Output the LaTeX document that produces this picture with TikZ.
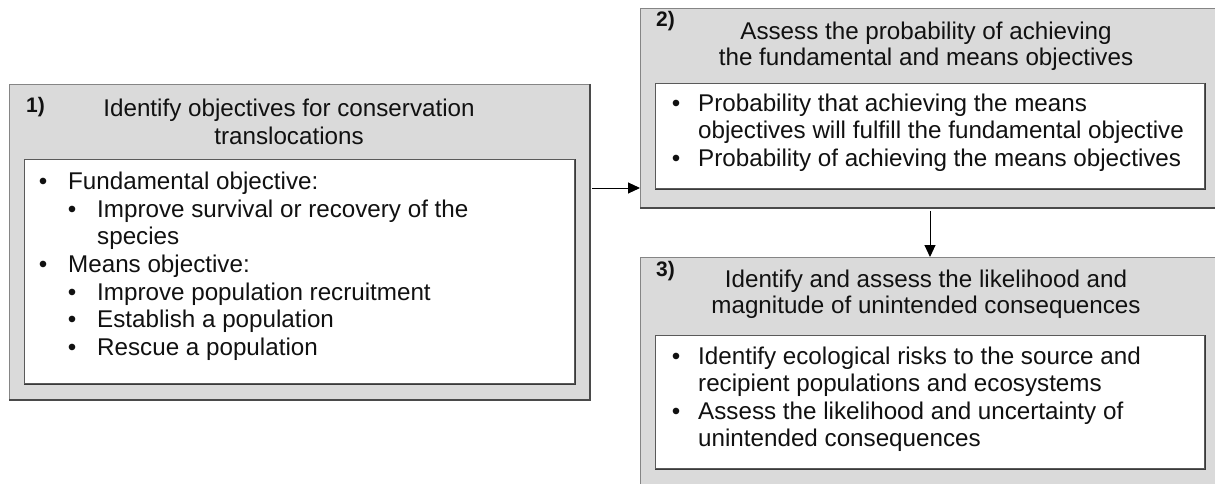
\documentclass[tikz,border=0pt]{standalone}
\usepackage{fontspec}
\setmainfont{Liberation Sans}
\usetikzlibrary{arrows.meta}
\definecolor{panelfill}{HTML}{DADADA}
\definecolor{paneledge}{HTML}{858585}
\definecolor{paneldark}{HTML}{4A4A4A}
\definecolor{cardedge}{HTML}{5A5A5A}
\definecolor{carddark}{HTML}{3A3A3A}
\definecolor{ink}{HTML}{111111}

\begin{document}
\begin{tikzpicture}[x=1pt,y=-1pt,
  panel/.style={draw=paneledge, line width=1pt, fill=panelfill, anchor=north west, inner sep=0pt},
  card/.style={draw=cardedge, line width=1.2pt, fill=white, anchor=north west, inner sep=0pt},
  panelshade/.style={draw=paneldark, line width=2pt},
  cardshade/.style={draw=carddark, line width=1.4pt},
  body/.style={anchor=base west, inner sep=0pt, text=ink, font=\fontsize{24.2}{29}\selectfont},
  head/.style={anchor=base, inner sep=0pt, text=ink, font=\fontsize{24.2}{29}\selectfont},
  num/.style={anchor=base west, inner sep=0pt, text=ink, font=\fontsize{21}{25}\selectfont\bfseries},
  dot/.style={anchor=base, inner sep=0pt, text=ink, font=\fontsize{24.2}{29}\selectfont},
  link/.style={draw=black, line width=1pt, -{Triangle[length=12pt,width=11pt]}}
]
\useasboundingbox (0,0) rectangle (1215,484);
\clip (0,0) rectangle (1215,484);

% ---- grey panels with their white cards
\node[panel, minimum width=580pt, minimum height=315pt] (box1) at (9,84) {};
\node[card, minimum width=550pt, minimum height=224pt] (card1) at (24,159) {};
\node[panel, minimum width=579pt, minimum height=199pt] (box2) at (640,8) {};
\node[card, minimum width=549pt, minimum height=105pt] (card2) at (655,83) {};
\node[panel, minimum width=579pt, minimum height=230pt] (box3) at (640,257) {};
\node[card, minimum width=549pt, minimum height=133pt] (card3) at (655,335) {};

% darker lower and right edges
\foreach \b in {box1,box2,box3}
  \draw[panelshade] (\b.north east) -- (\b.south east) -- (\b.south west);
\foreach \c in {card1,card2,card3}
  \draw[cardshade] (\c.north east) -- (\c.south east) -- (\c.south west);

% ---- panel 1
\node[num]  (n1)  at (26,113)  {1)};
\node[head] (h1a) at (289,117) {Identify objectives for conservation};
\node[head] (h1b) at (289,144) {translocations};

\node[dot]  (d1a) at (43,189)  {•};
\node[body] (b1a) at (68,189)  {Fundamental objective:};
\node[dot]  (d1b) at (72,217)  {•};
\node[body] (b1b) at (97,217)  {Improve survival or recovery of the};
\node[body] (b1c) at (97,244)  {species};
\node[dot]  (d1d) at (43,272)  {•};
\node[body] (b1d) at (68,272)  {Means objective:};
\node[dot]  (d1e) at (72,300)  {•};
\node[body] (b1e) at (97,300)  {Improve population recruitment};
\node[dot]  (d1f) at (72,327)  {•};
\node[body] (b1f) at (97,327)  {Establish a population};
\node[dot]  (d1g) at (72,355)  {•};
\node[body] (b1g) at (97,355)  {Rescue a population};

% ---- panel 2
\node[num]  (n2)  at (656,27)  {2)};
\node[head] (h2a) at (926,40)  {Assess the probability of achieving};
\node[head] (h2b) at (926,66)  {the fundamental and means objectives};

\node[dot]  (d2a) at (676,112) {•};
\node[body] (b2a) at (698,112) {Probability that achieving the means};
\node[body] (b2b) at (698,139) {objectives will fulfill the fundamental objective};
\node[dot]  (d2c) at (676,166) {•};
\node[body] (b2c) at (698,166) {Probability of achieving the means objectives};

% ---- panel 3
\node[num]  (n3)  at (656,276) {3)};
\node[head] (h3a) at (926,287) {Identify and assess the likelihood and};
\node[head] (h3b) at (926,313) {magnitude of unintended consequences};

\node[dot]  (d3a) at (676,364) {•};
\node[body] (b3a) at (698,364) {Identify ecological risks to the source and};
\node[body] (b3b) at (698,391) {recipient populations and ecosystems};
\node[dot]  (d3c) at (676,419) {•};
\node[body] (b3c) at (698,419) {Assess the likelihood and uncertainty of};
\node[body] (b3d) at (698,446) {unintended consequences};

% ---- connectors
\coordinate (a1) at (592,188);
\draw[link] (a1) -- (box2.west |- a1);
\draw[link] ([yshift=-3pt]box2.south) -- (box3.north);
\end{tikzpicture}
\end{document}
